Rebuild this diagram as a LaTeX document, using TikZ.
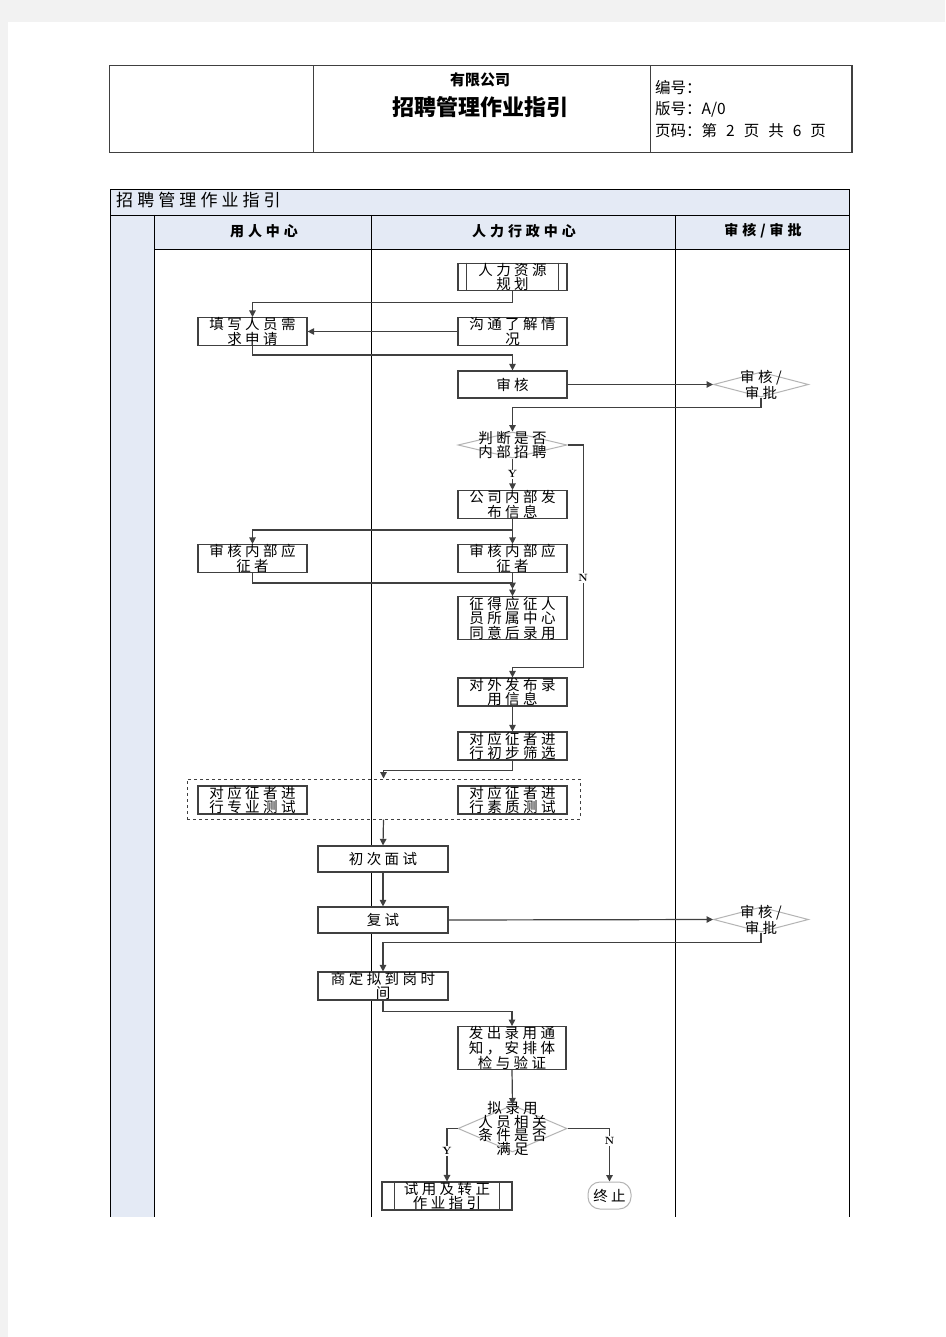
\documentclass[tikz,border=0pt]{standalone}
\usepackage{fontspec}
\usetikzlibrary{shapes.geometric,arrows.meta}
\newfontfamily\cjk{Noto Sans CJK SC}
\newfontfamily\cjksp[LetterSpace=24]{Noto Sans CJK SC}
\newfontfamily\cjkhd[LetterSpace=28]{Noto Sans CJK SC}
\newfontfamily\cjkti[LetterSpace=24]{Noto Sans CJK SC}
\definecolor{linec}{HTML}{404040}
\definecolor{hdrfill}{HTML}{E4EAF5}
\definecolor{pagegrey}{HTML}{F2F2F2}
\definecolor{dgrey}{HTML}{B4B4B4}
\tikzset{
  proc/.style={draw=linec, line width=1.2pt, fill=white, minimum width=109pt, minimum height=27pt,
    inner sep=0pt, align=center, font=\cjksp\fontsize{14.5}{14.5}\selectfont},
  wproc/.style={proc, minimum width=130pt, minimum height=26pt},
  decis/.style={diamond, draw=dgrey, line width=1pt, fill=white, inner sep=0pt, minimum width=95pt, minimum height=25pt},
  dtext/.style={font=\cjksp\fontsize{14.5}{13.8}\selectfont, align=center},
  conn/.style={draw=linec, line width=1.2pt, -{Triangle[length=6.5pt,width=6.5pt]}},
  lab/.style={fill=white, inner sep=1pt, font=\bfseries\fontsize{10.5}{10.5}\selectfont},
  tline/.style={draw=black, line width=0.9pt},
  hdr/.style={font=\cjkhd\bfseries\fontsize{14}{14}\selectfont},
  hinfo/.style={anchor=west, inner sep=0pt, font=\cjk\fontsize{15.5}{15.5}\selectfont},
}
\newcommand{\gapsp}{\hspace{9pt}}
\begin{document}
\begin{tikzpicture}[x=1pt,y=-1pt]
\useasboundingbox (0,0) rectangle (945,1337);
\fill[pagegrey] (0,0) rectangle (945,1337);
\fill[white] (8,22) rectangle (945,1337);

% header table
\draw[draw=linec, line width=1pt] (109,66) rectangle (852,153);
\draw[draw=linec, line width=1pt] (313,66) -- (313,153) (650,66) -- (650,153);
\draw[draw=linec, line width=2pt] (852,66) -- (852,153);
\node[font=\cjk\bfseries\fontsize{15}{15}\selectfont] (hco) at (480,80) {有限公司};
\node[font=\cjk\bfseries\fontsize{22}{22}\selectfont] (htitle) at (480,107) {招聘管理作业指引};
\node[hinfo] (hn1) at (655,88) {编号：};
\node[hinfo] (hn2) at (655,109) {版号：A/0};
\node[hinfo] (hn3) at (655,131) {页码：第\gapsp 2\gapsp 页\gapsp 共\gapsp 6\gapsp 页};

% flowchart table
\fill[hdrfill] (110,189) rectangle (849,215);
\fill[hdrfill] (110,215) rectangle (154,1217);
\fill[hdrfill] (154,215) rectangle (849,249);
\draw[tline] (110,1217) -- (110,189) -- (849,189) -- (849,1217);
\draw[tline] (110,215) -- (849,215);
\draw[tline] (154,249) -- (849,249);
\draw[tline] (154,215) -- (154,1217);
\draw[tline] (371,215) -- (371,1217);
\draw[tline] (675,215) -- (675,1217);
\node[anchor=west, inner sep=0pt, font=\cjkti\fontsize{17}{17}\selectfont] (ftitle) at (116,200) {招聘管理作业指引};
\node[hdr] (c1) at (264,231) {用人中心};
\node[hdr] (c2) at (524,231) {人力行政中心};
\node[hdr] (c3) at (763,231) {审核/审批};

% nodes
\node[proc] (n1) at (512.5,277) {人力资源\\规划};
\draw[draw=linec, line width=1.2pt] ([xshift=9pt]n1.north west) -- ([xshift=9pt]n1.south west)
  ([xshift=-9pt]n1.north east) -- ([xshift=-9pt]n1.south east);
\node[proc] (n2) at (252.5,331.5) {填写人员需\\求申请};
\node[proc] (n3) at (512.5,331.5) {沟通了解情\\况};
\node[proc] (n4) at (512.5,384.5) {审核};
\node[decis] (d1) at (761,384.5) {};
\node[dtext] (d1t) at (761,384.5) {审核/\\审批};
\node[decis, minimum width=109pt, minimum height=26pt] (d2) at (512.5,445) {};
\node[dtext] (d2t) at (512.5,445) {判断是否\\内部招聘};
\node[proc] (n5) at (512.5,504.5) {公司内部发\\布信息};
\node[proc] (n6) at (252.5,558.5) {审核内部应\\征者};
\node[proc] (n7) at (512.5,558.5) {审核内部应\\征者};
\node[proc, minimum height=40pt, font=\cjksp\fontsize{14.5}{13.3}\selectfont] (n8) at (512.5,618) {征得应征人\\员所属中心\\同意后录用};
\node[proc] (n9) at (512.5,692) {对外发布录\\用信息};
\node[proc] (n10) at (512.5,746) {对应征者进\\行初步筛选};
\node[draw=linec, dashed, line width=1pt, minimum width=393pt, minimum height=40pt, inner sep=0pt] (grp) at (383.5,799) {};
\node[proc] (n11) at (252.5,800) {对应征者进\\行专业测试};
\node[proc] (n12) at (512.5,800) {对应征者进\\行素质测试};
\node[wproc] (n13) at (383,859) {初次面试};
\node[wproc] (n14) at (383,920) {复试};
\node[decis] (d3) at (761,919.5) {};
\node[dtext] (d3t) at (761,919.5) {审核/\\审批};
\node[wproc] (n15) at (383,986) {商定拟到岗时\\间};
\node[proc, minimum width=108pt, minimum height=40pt, font=\cjksp\fontsize{14.5}{13.3}\selectfont] (n16) at (512,1048) {发出录用通\\知，安排体\\检与验证};
\node[decis, minimum width=109pt, minimum height=47pt] (d4) at (512.5,1128.5) {};
\node[dtext] (d4t) at (512.5,1128.5) {拟录用\\人员相关\\条件是否\\满足};
\node[wproc] (n17) at (447,1196) {试用及转正\\作业指引};
\draw[draw=linec, line width=1.2pt] ([xshift=13pt]n17.north west) -- ([xshift=13pt]n17.south west)
  ([xshift=-13pt]n17.north east) -- ([xshift=-13pt]n17.south east);
\node[draw=dgrey, line width=1pt, rounded corners=12pt, minimum width=43pt, minimum height=27pt, inner sep=0pt,
  font=\cjksp\fontsize{14.5}{14}\selectfont] (t1) at (609.5,1195.5) {终止};

% connectors
\draw[conn] (n1.south) -- ++(0,11) -| (n2.north);
\draw[conn] (n3.west) -- (n2.east);
\draw[conn] (n2.south) -- ++(0,9) -| (n4.north);
\draw[conn] (n4.east) -- (d1.west);
\draw[conn] (d1.south) -- ++(0,10) -| (d2.north);
\draw[conn] (d2.south) -- node[lab] (ly1) {Y} (n5.north);
\draw[conn] (d2.east) -- ++(16,0) |- ([yshift=10pt]n9.north) -- (n9.north);
\node[lab] (ln1) at (583,578) {N};
\draw[conn] (n5.south) -- ++(0,11) -| (n6.north);
\draw[conn] (n5.south) -- (n7.north);
\draw[conn] (n6.south) -- ++(0,10) -| ([yshift=7pt]n8.north);
\draw[conn] (n7.south) -- (n8.north);
\draw[conn] (n9.south) -- (n10.north);
\draw[conn] (n10.south) -- ++(0,10) -| (grp.north);
\draw[conn] (grp.south) -- (n13.north);
\draw[conn] (n13.south) -- (n14.north);
\draw[conn] (n14.east) -- (d3.west);
\draw[conn] (d3.south) -- ++(0,10) -| (n15.north);
\draw[conn] (n15.south) -- ++(0,11) -| (n16.north);
\draw[conn] (n16.south) -- (d4.north);
\draw[conn] (d4.west) -| (n17.north);
\node[lab] (ly2) at (447,1151) {Y};
\draw[conn] (d4.east) -| (t1.north);
\node[lab] (ln2) at (609.5,1141) {N};
\end{tikzpicture}
\end{document}
